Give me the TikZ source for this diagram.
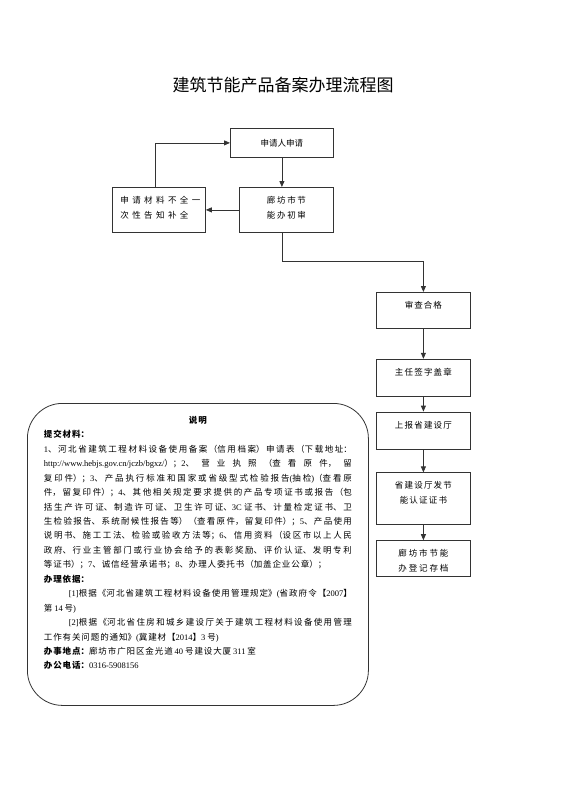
\documentclass[tikz,border=0pt]{standalone}
\usepackage{fontspec}
\setmainfont{Liberation Serif}
\newfontfamily\cjk{Noto Sans CJK SC}
\usetikzlibrary{arrows.meta,positioning}
\XeTeXlinebreaklocale "zh"
\XeTeXlinebreakskip=0pt plus 1pt

\newcommand\lat[1]{{\rmfamily\XeTeXlinebreakskip=0pt\relax #1}}
% text that sits at the top of a box of fixed size
\newcommand\boxtext[4][\centering]{\parbox[c][#3][t]{#2}{#1\rule{0pt}{16pt}#4}}

\begin{document}
\begin{tikzpicture}[x=1pt, y=-1pt,
      stepbox/.style={draw=black!80, line width=0.8pt, inner sep=0pt, anchor=north,
        font=\cjk\fontsize{8.5}{15}\selectfont},
      track/.style={execute at begin node={\XeTeXlinebreakskip=#1\relax}},
      ar/.style={-{Triangle[length=6pt,width=5pt]}, line width=0.8pt, draw=black!80}]
    \useasboundingbox (0,0) rectangle (565,800);
    \node[font=\cjk\fontsize{17}{17}\selectfont] (title) at (283,85) {建筑节能产品备案办理流程图};
    % left part of the flow
    \node[stepbox, track=3pt, anchor=north west, minimum width=103pt, minimum height=29pt] (apply) at (230,128) {申请人申请};
    \node[stepbox, track=1.7pt, anchor=north west] (check) at (239,187) {\boxtext{94pt}{45pt}{廊坊市节\\能办初审}};
    \node[stepbox, track=3.4pt, anchor=north west] (lack) at (112,187) {\boxtext[\raggedright\leftskip=8pt\relax]{93pt}{45pt}{申请材料不全一\\次性告知补全}};
    % right column
    \node[stepbox, track=1pt, anchor=north west] (pass) at (376,292) {\boxtext{94pt}{36pt}{审查合格}};
    \node[stepbox, track=1.2pt, below=30pt of pass] (sign) {\boxtext{94pt}{37pt}{主任签字盖章}};
    \node[stepbox, track=1.2pt, below=15pt of sign] (report) {\boxtext{94pt}{37pt}{上报省建设厅}};
    \node[stepbox, track=1.2pt, below=23pt of report] (issue) {\boxtext{94pt}{52pt}{省建设厅发节\\能认证证书}};
    \node[stepbox, track=1.9pt, below=15pt of issue] (file) {\boxtext{94pt}{36pt}{廊坊市节能\\办登记存档}};
    % notes
    \node[draw=black!80, line width=0.8pt, rounded corners=35pt, inner xsep=16.5pt, inner ysep=6pt, anchor=north west] (note) at (27,403)
      {\parbox[c][290pt][t]{308pt}{\cjk\fontsize{8.5}{14.44}\selectfont
        \XeTeXlinebreakskip=0.9pt plus 2pt minus 0.3pt\relax\parindent=0pt
        {\centering\bfseries\rule{0pt}{14pt}说明\par}
        {\bfseries 提交材料：}\\
        \lat{1}、河北省建筑工程材料设备使用备案（信用档案）申请表（下载地址：\linebreak
        \lat{http://www.hebjs.gov.cn/jczb/bgxz/}）；\lat{2}、营业执照（查看原件，留\linebreak
        复印件）；\lat{3}、产品执行标准和国家或省级型式检验报告\lat{(}抽检\lat{)}（查看原\linebreak
        件，留复印件）；\lat{4}、其他相关规定要求提供的产品专项证书或报告（包\linebreak
        括生产许可证、制造许可证、卫生许可证、\lat{3C} 证书、计量检定证书、卫\linebreak
        生检验报告、系统耐候性报告等）（查看原件，留复印件）；\lat{5}、产品使用\linebreak
        说明书、施工工法、检验或验收方法等；\lat{6}、信用资料（设区市以上人民\linebreak
        政府、行业主管部门或行业协会给予的表彰奖励、评价认证、发明专利\linebreak
        等证书）；\lat{7}、诚信经营承诺书；\lat{8}、办理人委托书（加盖企业公章）；\\
        {\bfseries 办理依据：}\\
        \hspace*{25pt}\lat{[1]}根据《河北省建筑工程材料设备使用管理规定》\lat{(}省政府令【\lat{2007}】\linebreak
        第 \lat{14} 号\lat{)}\\
        \hspace*{25pt}\lat{[2]}根据《河北省住房和城乡建设厅关于建筑工程材料设备使用管理\linebreak
        工作有关问题的通知》\lat{(}冀建材【\lat{2014}】\lat{3} 号\lat{)}\\
        {\bfseries 办事地点：}廊坊市广阳区金光道 \lat{40} 号建设大厦 \lat{311} 室\\
        {\bfseries 办公电话：}\lat{0316-5908156}}};
    \draw[ar] (apply.south) -- (apply.south |- check.north);
    \draw[ar] (check.west) -- (lack.east);
    \draw[ar] ([xshift=-4pt]lack.north) |- (apply.west);
    \draw[ar] (check.south -| apply.south) -- ++(0,29) -| (pass.north);
    \draw[ar] (pass) -- (sign); \draw[ar] (sign) -- (report);
    \draw[ar] (report) -- (issue); \draw[ar] (issue) -- (file);
  \end{tikzpicture}
\end{document}
